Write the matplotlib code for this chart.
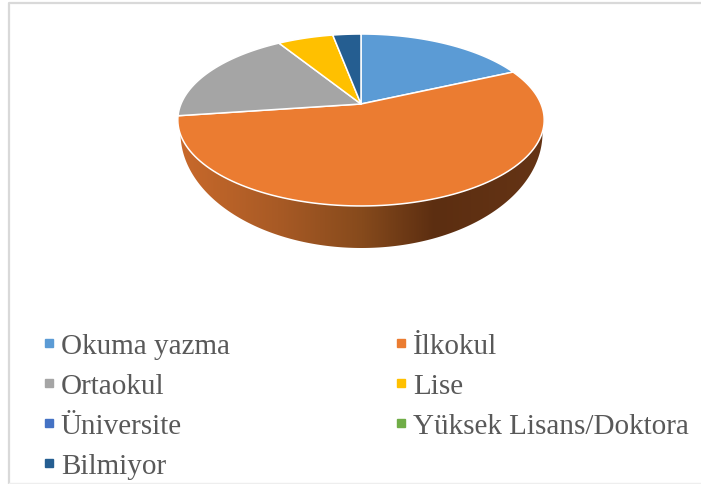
import numpy as np
import matplotlib
matplotlib.use("Agg")
import matplotlib.pyplot as plt
from matplotlib.colors import LinearSegmentedColormap
from matplotlib.lines import Line2D

categories = ["Okuma yazma", "İlkokul", "Ortaokul", "Lise", "Üniversite",
              "Yüksek Lisans/Doktora", "Bilmiyor"]
shares = [18.2, 54.6, 18.35, 5.88, 0.0, 0.0, 2.97]
colors = ["#5B9BD5", "#EB7C31", "#A5A5A5", "#FFC000", "#4472C4", "#70AD47", "#255E91"]

W, H = 701, 485
fig = plt.figure(figsize=(W / 100, H / 100), dpi=100)
ax = fig.add_axes([0, 0, 1, 1])
ax.axis("off")

CX, CY, R, A, B = 361.0, 105.0, 180.0, 83.0, 0.186


def project(theta):
    """Clockwise angle from 12 o'clock on the tilted disc to picture coordinates."""
    x, y = np.sin(theta), np.cos(theta)
    d = 1 + B * y
    return CX + R * x / d, CY - A * y / d


# side wall, a gradient clipped to the region under the top face
t = np.linspace(np.pi / 2 + 0.08, 3 * np.pi / 2 - 0.08, 300)
top_x, top_y = project(t)
u = np.linspace(np.pi, 0, 200)
low_x = 361.5 + 181 * np.cos(u)
low_y = 134 + 115 * np.sin(u)
wall = ax.fill(np.r_[top_x, low_x], np.r_[top_y, low_y], color="none", lw=0)[0]
cmap = LinearSegmentedColormap.from_list(
    "wall",
    [(0.0, "#C8692B"), (0.27, "#A85A25"), (0.50, "#864A1C"),
     (0.70, "#5C2E11"), (1.0, "#653415")],
)
img = ax.imshow(np.linspace(0, 1, 256)[None, :], cmap=cmap, aspect="auto",
                extent=(180, 544, 255, 100), zorder=1)
img.set_clip_path(wall)
ax.set_xlim(0, W)
ax.set_ylim(H, 0)

# top face
edges = np.r_[0, np.cumsum(shares)] / np.sum(shares) * 2 * np.pi
for start, stop, color, share in zip(edges[:-1], edges[1:], colors, shares):
    if share <= 0:
        continue
    a = np.linspace(start, stop, 120)
    px, py = project(a)
    ax.fill(np.r_[CX, px], np.r_[CY, py], facecolor=color, edgecolor="white",
            lw=1.1, joinstyle="round", zorder=2)

# chart frame: only the left, top and faint bottom edges show
ax.plot([8.5, 8.5, 701], [485, 3.5, 3.5], color="#D9D9D9", lw=1.6, zorder=0)
ax.plot([8.5, 701], [484.3, 484.3], color="#EEEEEE", lw=1.0, zorder=0)

# legend: two columns reading across
order = [0, 2, 4, 6, 1, 3, 5]
handles = [Line2D([], [], ls="none", marker="s", ms=6.4, mfc=colors[i], mec=colors[i],
                  label=categories[i]) for i in order]
leg = ax.legend(handles=handles, ncols=2, loc="upper left", bbox_to_anchor=(0.059, 0.312),
                frameon=False, borderpad=0, borderaxespad=0, handletextpad=0.12,
                handlelength=0.55, columnspacing=5.6, labelspacing=0.47,
                prop={"family": "Liberation Serif", "size": 21})
for txt in leg.get_texts():
    txt.set_color("#595959")

fig.savefig("out.png", dpi=100)
